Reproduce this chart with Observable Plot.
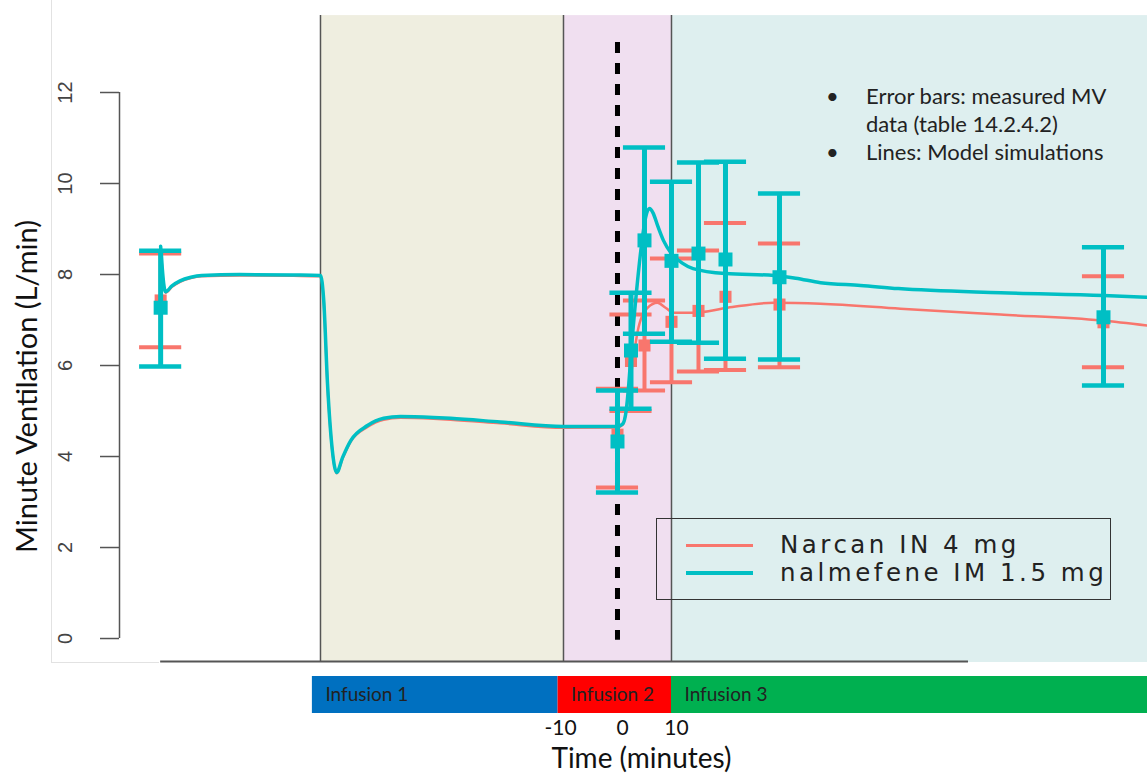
<!DOCTYPE html>
<html>
<head>
<meta charset="utf-8">
<script src="https://cdn.jsdelivr.net/npm/d3@7"></script>
<script src="https://cdn.jsdelivr.net/npm/@observablehq/plot@0.6"></script>
<style>
  html, body { margin: 0; padding: 0; background: #fff; }
  #wrap { position: relative; width: 1147px; height: 773px; overflow: hidden; background: #fff; }
  #wrap svg { display: block; }
  .note { position: absolute; left: 826px; top: 82px; font-family: Lato, "Open Sans", sans-serif; font-size: 22px; color: #222; line-height: 28px; }
  .note div { position: relative; padding-left: 40px; white-space: nowrap; }
  .note .b::before { content: "\2022"; position: absolute; left: 0; }
  .legend { position: absolute; left: 656px; top: 518px; width: 455px; height: 82px; border: 1.5px solid #333; box-sizing: border-box; font-family: "DejaVu Sans", sans-serif; font-size: 24.5px; letter-spacing: 3.5px; color: #222; }
  .legend .row { position: absolute; left: 0; height: 28px; white-space: nowrap; }
  .legend .sw { position: absolute; left: 29px; width: 67px; }
  .legend .lab { position: absolute; left: 123px; top: 0; line-height: 28px; }
  .frame-v { position: absolute; left: 51px; top: 0; height: 662px; border-left: 1px solid #e2e2e2; }
  .frame-h { position: absolute; left: 51px; top: 662px; width: 108px; border-top: 1px solid #e2e2e2; }
</style>
</head>
<body>
<div id="wrap"></div>
<script>
// ---------- data ----------
const yTicks = [0, 2, 4, 6, 8, 10, 12];
const xTickLabels = [-10, 0, 10];

// observation times (minutes) and measured MV (L/min)
const obsTime = [-84.6, 0, 2.5, 5, 10, 15, 20, 30, 90];
const nalMean = [7.27, 4.33, 6.33, 8.75, 8.30, 8.46, 8.33, 7.94, 7.06];
const nalLo   = [5.98, 3.21, 5.05, 6.70, 6.52, 6.50, 6.15, 6.13, 5.56];
const nalHi   = [8.52, 5.45, 7.60, 10.79, 10.04, 10.46, 10.48, 9.78, 8.60];
const narMean = [7.43, 4.48, 6.10, 6.44, 6.96, 7.20, 7.51, 7.34, 6.95];
const narLo   = [6.40, 3.32, 5.00, 5.45, 5.63, 5.87, 5.90, 5.96, 5.96];
const narHi   = [8.46, 5.49, 7.12, 7.43, 8.35, 8.53, 9.13, 8.68, 7.96];

// model simulations
const nalSimTime = [-84.6, -83.7, -82.5, -81, -79, -77, -70, -60, -55, -54.4, -53.7, -52.8, -52.0, -50.9, -49.4, -46.3, -43.3, -40.2, -34.1, -30.9, -21.7, -10, 0, 1.0, 1.6, 2.1, 2.6, 3.5, 4.5, 5.2, 5.9, 6.6, 7.5, 8.5, 10, 12, 14, 20, 29, 33, 37.6, 45, 52, 71, 90, 98];
const nalSimMV   = [8.62, 7.62, 7.75, 7.86, 7.94, 7.98, 8.00, 7.99, 7.98, 7.43, 5.60, 4.13, 3.65, 3.98, 4.35, 4.68, 4.84, 4.88, 4.86, 4.84, 4.76, 4.66, 4.66, 4.72, 5.00, 5.60, 6.40, 7.60, 8.70, 9.25, 9.45, 9.35, 9.05, 8.75, 8.46, 8.25, 8.13, 8.02, 7.98, 7.92, 7.82, 7.76, 7.69, 7.60, 7.54, 7.50];
const narSimTime = [-84.6, -83.7, -82.5, -81, -79, -77, -70, -60, -55, -54.4, -53.7, -52.8, -52.0, -50.9, -49.4, -46.3, -43.3, -40.2, -34.1, -30.9, -21.7, -10, 0, 1.0, 2.0, 2.8, 3.9, 5.6, 7.4, 8.9, 10.4, 14.1, 20.4, 28.9, 37.6, 52.4, 70.9, 89.6, 98.1];
const narSimMV   = [8.60, 7.60, 7.73, 7.84, 7.92, 7.96, 7.98, 7.97, 7.96, 7.41, 5.58, 4.11, 3.63, 3.96, 4.33, 4.65, 4.81, 4.85, 4.83, 4.81, 4.73, 4.63, 4.64, 4.70, 5.30, 6.04, 6.84, 7.27, 7.38, 7.27, 7.16, 7.16, 7.27, 7.38, 7.36, 7.25, 7.12, 6.99, 6.88];

// shaded phases of the main panel
const phaseStart = [-55, -10, 10];
const phaseEnd   = [-10, 10, 98.15];
const phaseFill  = ["#EFEEE0", "#F0DFF0", "#DEEFEF"];

// infusion bars below the panel
const infusionName  = ["Infusion 1", "Infusion 2", "Infusion 3"];
const infusionStart = [-56.5, -11, 10];
const infusionEnd   = [-11, 10, 98.15];
const infusionColor = ["#0070C0", "#FF0000", "#00B050"];

// scale extents
const T_MIN = -92.22, T_MAX = 98.15;
const MV_MIN = -0.527, MV_MAX = 14.022;
const REGION_TOP = 13.69;
const DASH_TOP = 13.1, DASH_BOTTOM = -0.04;
const AXIS_START = -84.6, AXIS_END = 65;
const CAP = 3.9; // half cap width, minutes

const TEAL = "#00BFC4", SALMON = "#F8766D";

// ---------- build tables ----------
const phases = phaseStart.map((s, i) => ({start: s, end: phaseEnd[i], fill: phaseFill[i]}));
const nalObs = obsTime.map((t, i) => ({t, mean: nalMean[i], lo: nalLo[i], hi: nalHi[i]}));
const narObs = obsTime.map((t, i) => ({t, mean: narMean[i], lo: narLo[i], hi: narHi[i]}));
const nalSim = nalSimTime.map((t, i) => ({t, mv: nalSimMV[i]}));
const narSim = narSimTime.map((t, i) => ({t, mv: narSimMV[i]}));
const infusions = infusionName.map((n, i) => ({name: n, start: infusionStart[i], end: infusionEnd[i], color: infusionColor[i]}));

function errorBars(data, color, w, capW, r) {
  return [
    Plot.ruleX(data, {x: "t", y1: "lo", y2: "hi", stroke: color, strokeWidth: w}),
    Plot.ruleY(data, {y: "hi", x1: d => d.t - CAP, x2: d => d.t + CAP, stroke: color, strokeWidth: capW}),
    Plot.ruleY(data, {y: "lo", x1: d => d.t - CAP, x2: d => d.t + CAP, stroke: color, strokeWidth: capW}),
    Plot.dot(data, {x: "t", y: "mean", symbol: "square", r, fill: color, stroke: "none"})
  ];
}

const main = Plot.plot({
  width: 1147, height: 662,
  marginLeft: 119, marginRight: 0, marginTop: 0, marginBottom: 0,
  style: {fontFamily: "'Liberation Sans', Arial, sans-serif", background: "transparent", overflow: "visible"},
  x: {domain: [T_MIN, T_MAX], axis: null},
  y: {domain: [MV_MIN, MV_MAX], axis: null},
  color: {type: "identity"},
  marks: [
    Plot.rect(phases, {x1: "start", x2: "end", y1: () => MV_MIN, y2: () => REGION_TOP, fill: "fill"}),
    Plot.ruleX(phaseStart, {y1: MV_MIN, y2: REGION_TOP, stroke: "#555", strokeWidth: 1.5}),
    Plot.ruleY([MV_MIN], {x1: AXIS_START, x2: AXIS_END, dy: -1, stroke: "#555", strokeWidth: 2}),
    Plot.ruleX([T_MIN], {y1: 0, y2: 12, stroke: "#555", strokeWidth: 1.5}),
    Plot.axisY({ticks: yTicks, tickSize: 19, tickFormat: () => "", label: null, stroke: "#555", strokeWidth: 1.5}),
    Plot.text(yTicks, {x: () => T_MIN, y: d => d, text: d => String(d), rotate: -90, dx: -54, fontSize: 20, fill: "#444"}),
    Plot.text(["Minute Ventilation (L/min)"], {frameAnchor: "left", textAnchor: "middle", lineAnchor: "middle", dx: -92, dy: 55, rotate: -90, fontSize: 29, fontFamily: "Lato, 'Open Sans', sans-serif", fill: "#111"}),
    Plot.ruleX([0], {y1: DASH_TOP, y2: DASH_BOTTOM, stroke: "black", strokeWidth: 5, strokeDasharray: "11,10"}),
    Plot.line(narSim, {x: "t", y: "mv", stroke: SALMON, strokeWidth: 2.5, curve: "monotone-x"}),
    ...errorBars(narObs, SALMON, 4, 4, 6.8),
    Plot.line(nalSim, {x: "t", y: "mv", stroke: TEAL, strokeWidth: 3.5, curve: "monotone-x"}),
    ...errorBars(nalObs, TEAL, 5, 4.5, 7.9)
  ]
});

const bottom = Plot.plot({
  width: 1147, height: 111,
  marginLeft: 119, marginRight: 0, marginTop: 14, marginBottom: 60,
  style: {fontFamily: "Lato, 'Open Sans', sans-serif", background: "transparent", overflow: "visible"},
  x: {domain: [T_MIN, T_MAX], axis: null},
  y: {domain: [0, 1], axis: null},
  color: {type: "identity"},
  marks: [
    Plot.rect(infusions, {x1: "start", x2: "end", y1: () => 0, y2: () => 1, fill: "color"}),
    Plot.text(infusions, {x: "start", y: () => 0.5, text: "name", textAnchor: "start", dx: 13, fontSize: 19, fill: "#222"}),
    Plot.text(xTickLabels.filter(d => d < 0), {x: d => d, frameAnchor: "bottom", lineAnchor: "middle", text: d => String(d), dx: -3, dy: 15, fontSize: 21, fill: "#111"}),
    Plot.text(xTickLabels.filter(d => d >= 0), {x: d => d, frameAnchor: "bottom", lineAnchor: "middle", text: d => String(d), dx: 5, dy: 15, fontSize: 21, fill: "#111"}),
    Plot.text(["Time (minutes)"], {frameAnchor: "bottom", lineAnchor: "middle", dx: 8, dy: 46, fontSize: 28, fill: "#111"})
  ]
});

const wrap = document.getElementById("wrap");
wrap.appendChild(main);
wrap.appendChild(bottom);

const fv = document.createElement("div"); fv.className = "frame-v"; wrap.appendChild(fv);
const fh = document.createElement("div"); fh.className = "frame-h"; wrap.appendChild(fh);

const note = document.createElement("div");
note.className = "note";
note.innerHTML = '<div class="b">Error bars: measured MV</div><div>data (table 14.2.4.2)</div><div class="b">Lines: Model simulations</div>';
wrap.appendChild(note);

const legend = document.createElement("div");
legend.className = "legend";
const legendItems = [{label: "Narcan IN 4 mg", color: SALMON, w: 3}, {label: "nalmefene IM 1.5 mg", color: TEAL, w: 4}];
legendItems.forEach((it, i) => {
  const row = document.createElement("div");
  row.className = "row";
  row.style.top = (12 + i * 28) + "px";
  row.style.width = "100%";
  const sw = document.createElement("div");
  sw.className = "sw";
  sw.style.top = (14 - it.w / 2) + "px";
  sw.style.height = it.w + "px";
  sw.style.background = it.color;
  const lab = document.createElement("div");
  lab.className = "lab";
  lab.textContent = it.label;
  row.appendChild(sw); row.appendChild(lab);
  legend.appendChild(row);
});
wrap.appendChild(legend);
</script>
</body>
</html>
